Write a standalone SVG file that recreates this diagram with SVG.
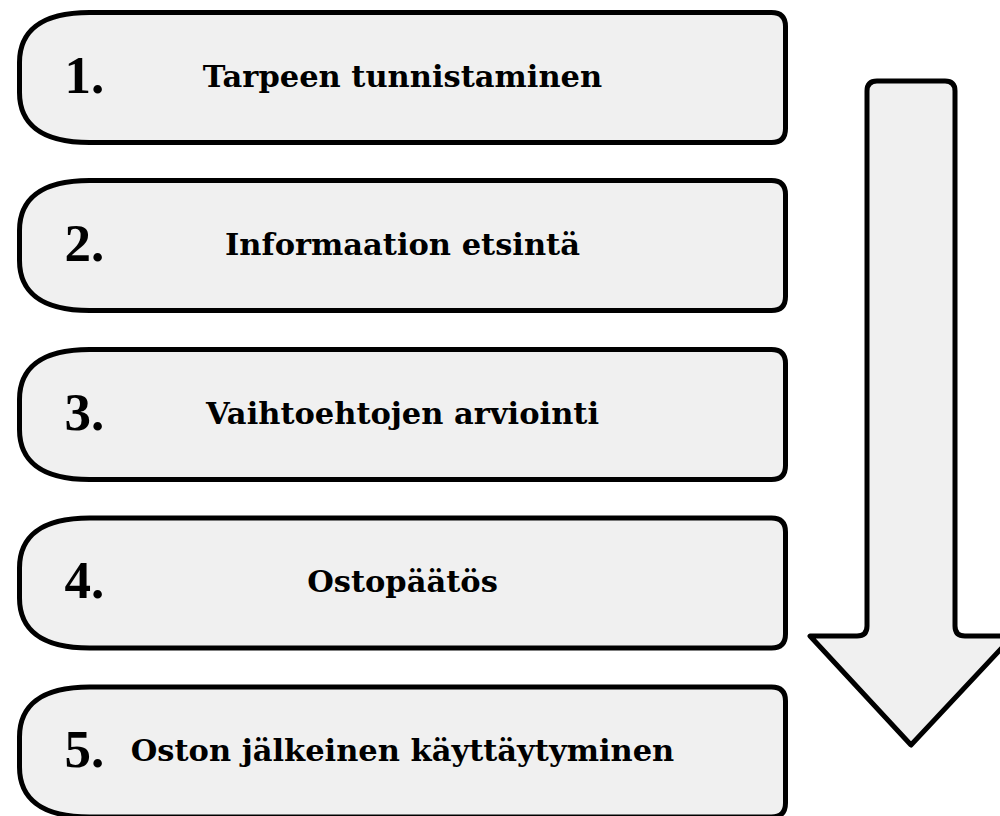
<svg xmlns="http://www.w3.org/2000/svg" width="1000" height="816" viewBox="0 0 1000 816">
  <style>
    .shape { fill: #f0f0f0; stroke: #000; stroke-width: 5; stroke-linejoin: round; }
    .num { font-family: "Liberation Serif", "DejaVu Serif", serif; font-weight: bold; font-size: 53px; fill: #000; }
    .label { font-family: "DejaVu Serif", "Liberation Serif", serif; font-weight: bold; font-size: 30.5px; fill: #000; text-anchor: middle; }
  </style>
  <defs>
    <!-- step box: wide rounded left end, small radius on the right -->
    <path id="stepBox" d="M 70 0 H 752 Q 766 0 766 14 V 116 Q 766 130 752 130 H 70 C 20 130 0 110 0 80 V 50 C 0 20 20 0 70 0 Z"/>
  </defs>
  <rect width="1000" height="816" fill="#fff"/>

  <g id="step1" transform="translate(19.5,12.5)">
    <use href="#stepBox" class="shape"/>
    <text class="num" x="45" y="80">1.</text>
    <text class="label" x="383" y="74">Tarpeen tunnistaminen</text>
  </g>
  <g id="step2" transform="translate(19.5,180.5)">
    <use href="#stepBox" class="shape"/>
    <text class="num" x="45" y="80">2.</text>
    <text class="label" x="383" y="74">Informaation etsintä</text>
  </g>
  <g id="step3" transform="translate(19.5,349.5)">
    <use href="#stepBox" class="shape"/>
    <text class="num" x="45" y="80">3.</text>
    <text class="label" x="383" y="74">Vaihtoehtojen arviointi</text>
  </g>
  <g id="step4" transform="translate(19.5,518)">
    <use href="#stepBox" class="shape"/>
    <text class="num" x="45" y="80">4.</text>
    <text class="label" x="383" y="74">Ostopäätös</text>
  </g>
  <g id="step5" transform="translate(19.5,687)">
    <use href="#stepBox" class="shape"/>
    <text class="num" x="45" y="80">5.</text>
    <text class="label" x="383" y="74">Oston jälkeinen käyttäytyminen</text>
  </g>

  <g id="connectors">
    <!-- large downward flow arrow -->
    <path class="shape" d="M 877 81 H 945 Q 955 81 955 91 V 626 Q 955 636 965 636 H 1013 L 911 745 L 810 636 H 857 Q 867 636 867 626 V 91 Q 867 81 877 81 Z"/>
  </g>
</svg>
